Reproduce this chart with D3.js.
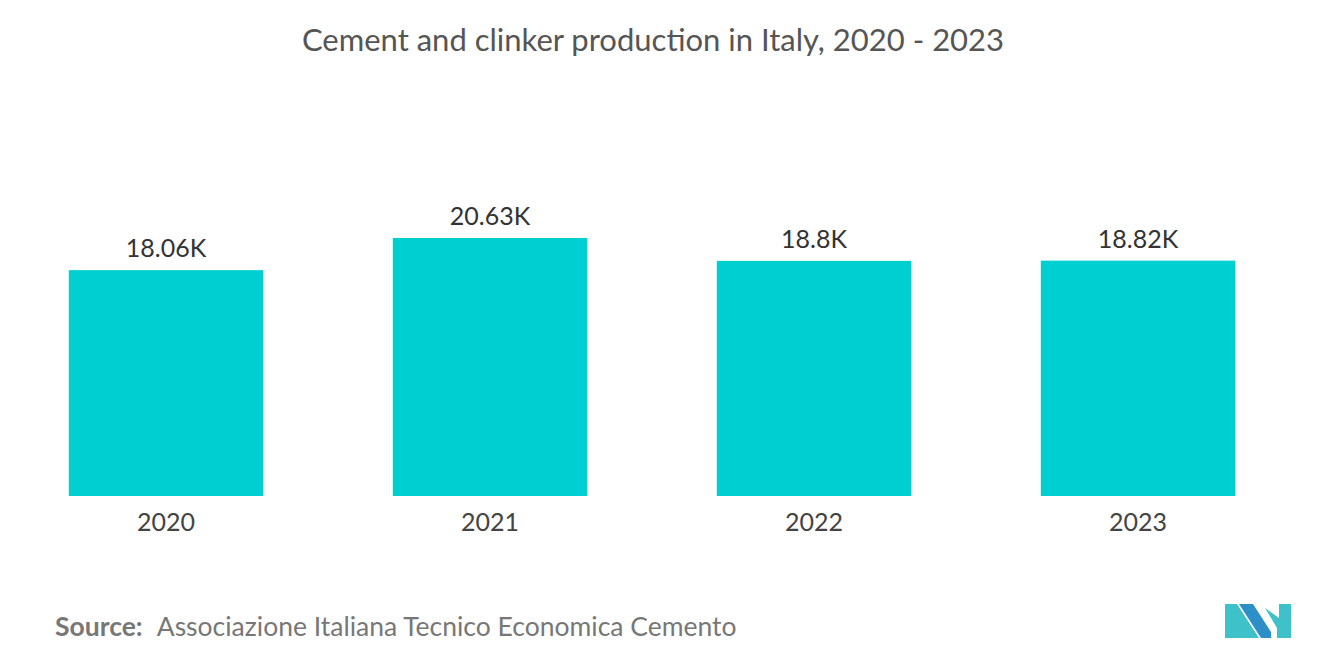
<!DOCTYPE html>
<html><head><meta charset="utf-8">
<script src="https://cdn.jsdelivr.net/npm/d3@7"></script>
<style>body{margin:0;background:#fff}text{font-family:Lato,"Open Sans",sans-serif}</style>
</head><body><svg id="c" width="1320" height="665"></svg>
<script>
const years = ["2020", "2021", "2022", "2023"];
const production = [18.06, 20.63, 18.8, 18.82];
const valueLabels = ["18.06K", "20.63K", "18.8K", "18.82K"];

const svg = d3.select("#c");
const x = d3.scaleBand().domain(years).range([4, 1300]).paddingInner(0.4).paddingOuter(0.2);
const y = d3.scaleLinear().domain([0, 20.63]).range([496, 238]);

svg.append("text").attr("x", 653).attr("y", 51).attr("text-anchor", "middle")
  .attr("font-size", 31).attr("fill", "#555").text("Cement and clinker production in Italy, 2020 - 2023");

svg.selectAll("rect.bar").data(production).join("rect").attr("class", "bar")
  .attr("x", (d, i) => x(years[i])).attr("width", x.bandwidth())
  .attr("y", d => y(d)).attr("height", d => y(0) - y(d)).attr("fill", "#00cfd1");

svg.selectAll("text.val").data(production).join("text").attr("class", "val")
  .attr("x", (d, i) => x(years[i]) + x.bandwidth() / 2).attr("y", d => y(d) - 13)
  .attr("text-anchor", "middle").attr("font-size", 25).attr("fill", "#333")
  .text((d, i) => valueLabels[i]);

const ax = svg.append("g").attr("transform", "translate(0,496)")
  .call(d3.axisBottom(x).tickSize(0).tickPadding(17));
ax.select(".domain").remove();
ax.selectAll("text").attr("font-size", 25).attr("fill", "#444").attr("font-family", "Lato,sans-serif");

const src = svg.append("text").attr("x", 55).attr("y", 636).attr("font-size", 26.5).attr("fill", "#777");
src.append("tspan").attr("font-weight", "bold").text("Source:");
src.append("tspan").attr("dx", 14).text("Associazione Italiana Tecnico Economica Cemento");

const logo = svg.append("g").attr("transform", "translate(1225,604)");
logo.append("polygon").attr("points", "0,0 12,0 34,34 0,34").attr("fill", "#3fc1c9");
logo.append("polygon").attr("points", "14,0 28,0 46,28 46,34 36,34").attr("fill", "#2d8fc7");
logo.append("polygon").attr("points", "40,4 52,24 52,34 66,34 66,0 54,0 54,14").attr("fill", "#3fc1c9");
</script></body></html>
